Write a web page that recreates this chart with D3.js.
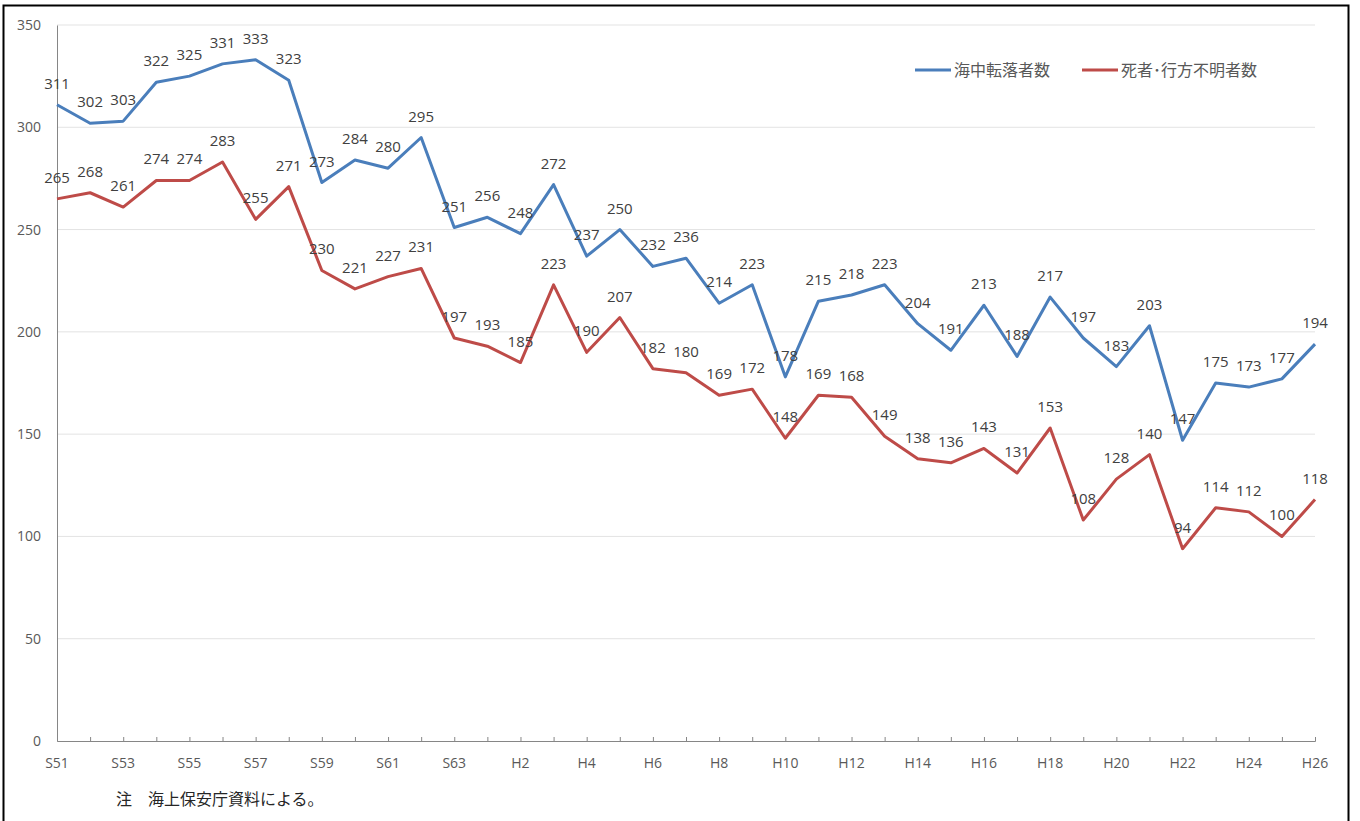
<!DOCTYPE html>
<html>
<head>
<meta charset="utf-8">
<script src="https://d3js.org/d3.v7.min.js"></script>
<style>
body { margin: 0; background: #fff; }
svg text { font-family: "Noto Sans CJK JP", "Open Sans", sans-serif; }
</style>
</head>
<body>
<script>
// years: S51..S63, H1..H26
var years = ["S51","S52","S53","S54","S55","S56","S57","S58","S59","S60","S61","S62","S63",
	"H1","H2","H3","H4","H5","H6","H7","H8","H9","H10","H11","H12","H13","H14","H15","H16",
	"H17","H18","H19","H20","H21","H22","H23","H24","H25","H26"];
var fallen = [311,302,303,322,325,331,333,323,273,284,280,295,251,256,248,272,237,250,232,236,
	214,223,178,215,218,223,204,191,213,188,217,197,183,203,147,175,173,177,194];
var dead = [265,268,261,274,274,283,255,271,230,221,227,231,197,193,185,223,190,207,182,180,
	169,172,148,169,168,149,138,136,143,131,153,108,128,140,94,114,112,100,118];
var yTicks = [0,50,100,150,200,250,300,350];
var seriesNames = ["海中転落者数","死者･行方不明者数"];
var colors = ["#4a7ebb","#be4b48"];

var width = 1360, height = 821;
var svg = d3.select("body").append("svg")
	.attr("width", width)
	.attr("height", height);

// outer frame
svg.append("rect")
	.attr("x", 3.5).attr("y", 5.5)
	.attr("width", 1345).attr("height", 830)
	.attr("fill", "none").attr("stroke", "#000").attr("stroke-width", 2);

var x = d3.scalePoint().domain(years).range([57, 1315]);
var y = d3.scaleLinear().domain([0, 350]).range([741, 25]);

// grid
svg.append("g").selectAll("line")
	.data(yTicks.filter(function(d){ return d > 0; }))
	.enter().append("line")
	.attr("x1", 57).attr("x2", 1315)
	.attr("y1", function(d){ return y(d); })
	.attr("y2", function(d){ return y(d); })
	.attr("stroke", "#e3e3e3").attr("stroke-width", 1);

// y axis
var yAxis = svg.append("g")
	.attr("transform", "translate(57,0)")
	.call(d3.axisLeft(y).tickValues(yTicks).tickSize(0).tickPadding(16));
yAxis.select(".domain").attr("stroke", "#868686");
yAxis.selectAll("text").attr("fill", "#595959").style("font-size", "14px")
	.style("font-family", "'Open Sans', sans-serif");

// x axis
var xAxis = svg.append("g")
	.attr("transform", "translate(0,741)")
	.call(d3.axisTop(x).tickSize(4).tickFormat(""));
xAxis.select(".domain").attr("stroke", "#868686");
xAxis.selectAll("line").attr("stroke", "#868686");

svg.append("g").selectAll("text")
	.data(years.filter(function(d, i){ return i % 2 == 0; }))
	.enter().append("text")
	.attr("x", function(d){ return x(d); })
	.attr("y", 768)
	.attr("text-anchor", "middle")
	.attr("fill", "#595959")
	.style("font-size", "14px")
	.style("font-family", "'Open Sans', sans-serif")
	.text(function(d){ return d; });

// lines
var line = d3.line()
	.x(function(d, i){ return x(years[i]); })
	.y(function(d){ return y(d); });

[fallen, dead].forEach(function(s, k){
	svg.append("path")
		.datum(s)
		.attr("d", line)
		.attr("fill", "none")
		.attr("stroke", colors[k])
		.attr("stroke-width", 3)
		.attr("stroke-linejoin", "round");

	svg.append("g").selectAll("text")
		.data(s)
		.enter().append("text")
		.attr("x", function(d, i){ return x(years[i]); })
		.attr("y", function(d){ return y(d) - 16; })
		.attr("text-anchor", "middle")
		.attr("fill", "#404040")
		.style("font-size", "15px")
		.style("font-family", "'Open Sans', sans-serif")
		.text(function(d){ return d; });
});

// legend
var legendX = [915, 1082];
seriesNames.forEach(function(name, k){
	svg.append("line")
		.attr("x1", legendX[k]).attr("x2", legendX[k] + 36)
		.attr("y1", 70).attr("y2", 70)
		.attr("stroke", colors[k]).attr("stroke-width", 3);
	svg.append("text")
		.attr("x", legendX[k] + 39).attr("y", 76)
		.attr("fill", "#595959")
		.style("font-size", "16px")
		.text(name);
});

// note
svg.append("text")
	.attr("x", 116).attr("y", 805)
	.attr("fill", "#262626")
	.style("font-size", "16px")
	.text("注　海上保安庁資料による。");
</script>
</body>
</html>
